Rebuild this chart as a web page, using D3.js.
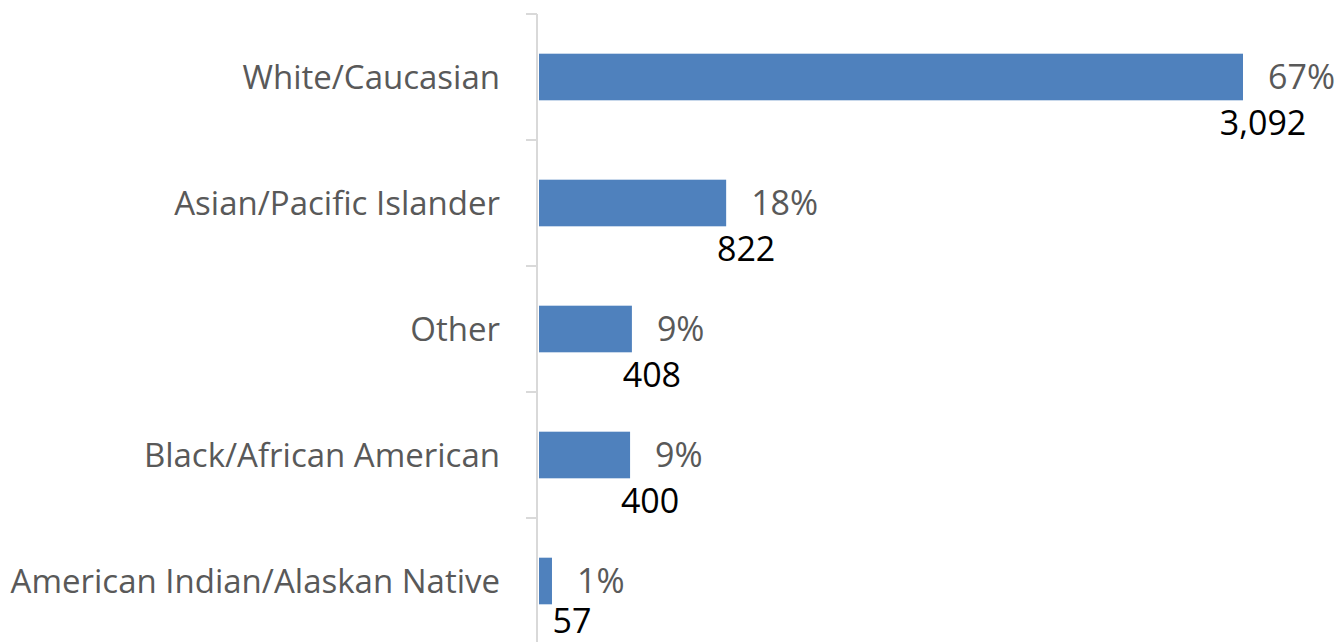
<!DOCTYPE html>
<html>
<head>
<meta charset="utf-8">
<script src="https://d3js.org/d3.v7.min.js"></script>
<style>
  body { margin: 0; background: #fff; }
  text { font-family: "Open Sans", "Noto Sans", sans-serif; }
</style>
</head>
<body>
<svg id="chart" width="1342" height="642"></svg>
<script>
// categories, top to bottom
var categories = ["White/Caucasian", "Asian/Pacific Islander", "Other", "Black/African American", "American Indian/Alaskan Native"];
var counts = [3092, 822, 408, 400, 57];
var percentLabels = ["67%", "18%", "9%", "9%", "1%"];
var countLabels = ["3,092", "822", "408", "400", "57"];

var svg = d3.select("#chart");

var y = d3.scaleBand()
  .domain(categories)
  .range([14, 644])
  .paddingInner(0.63)
  .paddingOuter(0.315);

var x = d3.scaleLinear()
  .domain([0, d3.max(counts)])
  .range([539, 1243]);

// axis line + ticks between categories
var axis = svg.append("g").attr("transform", "translate(537,0)");
axis.append("line")
  .attr("x1", 0).attr("x2", 0)
  .attr("y1", 14).attr("y2", 642)
  .attr("stroke", "#d9d9d9").attr("stroke-width", 2);
var step = y.step();
d3.range(categories.length + 1).forEach(function(i) {
  axis.append("line")
    .attr("x1", -11).attr("x2", 0)
    .attr("y1", 14 + i * step).attr("y2", 14 + i * step)
    .attr("stroke", "#d9d9d9").attr("stroke-width", 2);
});

function mid(d) { return y(d) + y.bandwidth() / 2; }

// category labels
svg.append("g").selectAll("text")
  .data(categories)
  .enter().append("text")
  .attr("x", 500)
  .attr("y", mid)
  .attr("dy", "0.35em")
  .attr("text-anchor", "end")
  .attr("fill", "#595959")
  .style("font-size", "33px")
  .text(function(d) { return d; });

// bars
svg.append("g").selectAll("rect")
  .data(categories)
  .enter().append("rect")
  .attr("x", x(0))
  .attr("y", function(d) { return y(d); })
  .attr("width", function(d, i) { return x(counts[i]) - x(0); })
  .attr("height", y.bandwidth())
  .attr("fill", "#4f81bd");

// percent labels
svg.append("g").selectAll("text")
  .data(categories)
  .enter().append("text")
  .attr("x", function(d, i) { return x(counts[i]) + 25; })
  .attr("y", function(d) { return mid(d) + 12; })
  .attr("fill", "#595959")
  .style("font-size", "34px")
  .text(function(d, i) { return percentLabels[i]; });

// count labels (last one pushed up to stay inside the frame, as in the original)
svg.append("g").selectAll("text")
  .data(categories)
  .enter().append("text")
  .attr("x", function(d, i) { return x(counts[i]) + 20; })
  .attr("y", function(d) { return Math.min(mid(d) + 58, 633); })
  .attr("text-anchor", "middle")
  .attr("fill", "#000")
  .style("font-size", "34px")
  .text(function(d, i) { return countLabels[i]; });
</script>
</body>
</html>
